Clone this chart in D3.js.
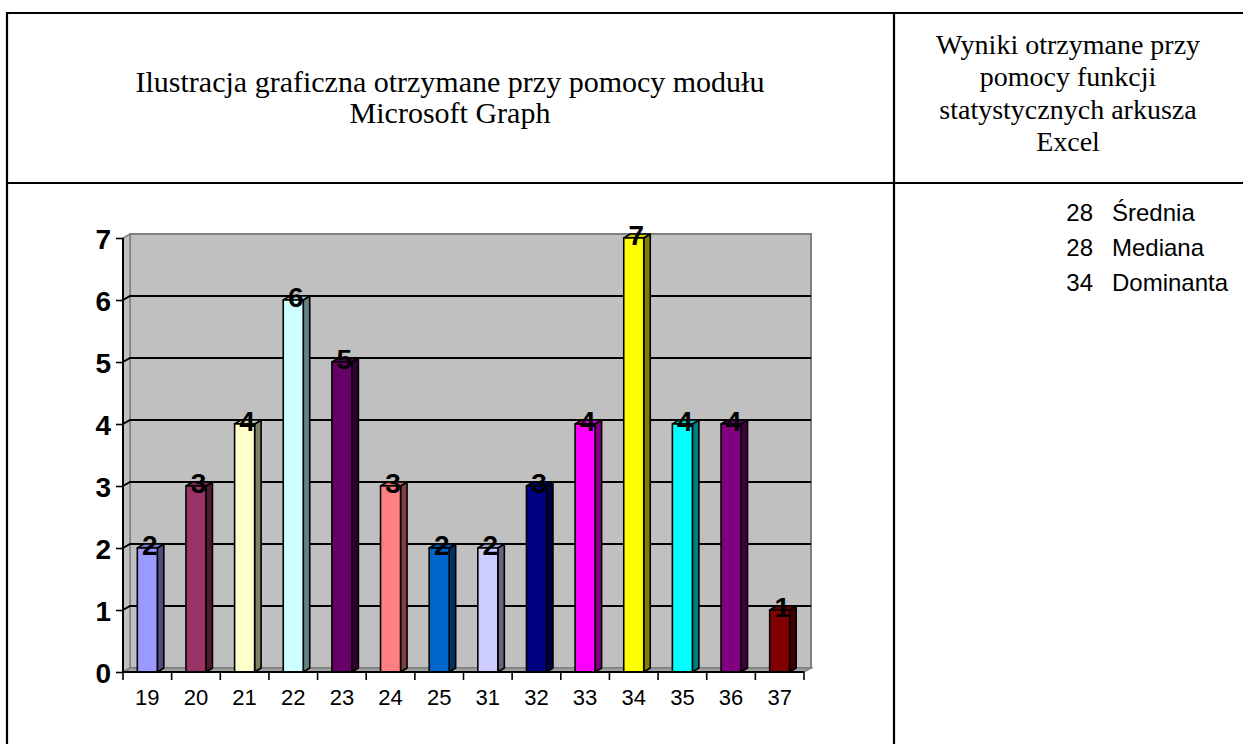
<!DOCTYPE html>
<html>
<head>
<meta charset="utf-8">
<script src="https://cdn.jsdelivr.net/npm/d3@7"></script>
<style>
  html, body { margin: 0; padding: 0; background: #fff; }
  svg { display: block; }
</style>
</head>
<body>
<svg id="page" width="1243" height="744"></svg>
<script>
// Age groups and how many people fall in each
const categories = ["19", "20", "21", "22", "23", "24", "25", "31", "32", "33", "34", "35", "36", "37"];
const counts = [2, 3, 4, 6, 5, 3, 2, 2, 3, 4, 7, 4, 4, 1];
const barColors = ["#9999FF", "#993366", "#FFFFCC", "#CCFFFF", "#660066", "#FF8080", "#0066CC",
                   "#CCCCFF", "#000080", "#FF00FF", "#FFFF00", "#00FFFF", "#800080", "#800000"];
const yTicks = [0, 1, 2, 3, 4, 5, 6, 7];

// Header texts and the spreadsheet statistics
const leftHeader = ["Ilustracja graficzna otrzymane przy pomocy modułu", "Microsoft Graph"];
const rightHeader = ["Wyniki otrzymane przy", "pomocy funkcji", "statystycznych arkusza", "Excel"];
const statValues = [28, 28, 34];
const statNames = ["Średnia", "Mediana", "Dominanta"];

const svg = d3.select("#page");

// ---- table frame ----
const frame = svg.append("g").attr("stroke", "#000").attr("stroke-width", 2.2);
frame.append("line").attr("x1", 7).attr("y1", 13).attr("x2", 1243).attr("y2", 13);
frame.append("line").attr("x1", 7).attr("y1", 183).attr("x2", 1243).attr("y2", 183);
frame.append("line").attr("x1", 7).attr("y1", 12).attr("x2", 7).attr("y2", 744);
frame.append("line").attr("x1", 894).attr("y1", 12).attr("x2", 894).attr("y2", 744);

const serif = "'Liberation Serif', 'Times New Roman', serif";
svg.append("g").selectAll("text").data(leftHeader).join("text")
  .attr("x", 450).attr("y", (d, i) => 92 + i * 31)
  .attr("text-anchor", "middle")
  .attr("font-family", serif).attr("font-size", 30)
  .text(d => d);
svg.append("g").selectAll("text").data(rightHeader).join("text")
  .attr("x", 1068).attr("y", (d, i) => 54 + i * 32.4)
  .attr("text-anchor", "middle")
  .attr("font-family", serif).attr("font-size", 28)
  .text(d => d);

const sans = "'Liberation Sans', Arial, sans-serif";
const stats = svg.append("g").attr("font-family", sans).attr("font-size", 24);
stats.selectAll("text.v").data(statValues).join("text").attr("class", "v")
  .attr("x", 1093).attr("y", (d, i) => 221 + i * 35)
  .attr("text-anchor", "end").text(d => d);
stats.selectAll("text.n").data(statNames).join("text").attr("class", "n")
  .attr("x", 1112).attr("y", (d, i) => 221 + i * 35)
  .text(d => d);

// ---- 3D column chart ----
const x0 = 123, x1 = 804;          // front floor edge
const yBase = 672, yTop = 238;     // front value range
const depth = { dx: 7, dy: -4 };   // wall depth offset
const barDepth = { dx: 6.5, dy: -4 };

const x = d3.scaleBand().domain(categories).range([x0, x1]).paddingInner(0).paddingOuter(0);
const y = d3.scaleLinear().domain([0, 7]).range([yBase, yTop]);

const chart = svg.append("g");

// back wall
chart.append("rect")
  .attr("x", x0 + depth.dx).attr("y", yTop + depth.dy)
  .attr("width", x1 - x0).attr("height", yBase - yTop)
  .attr("fill", "#C0C0C0").attr("stroke", "#808080").attr("stroke-width", 2);
// side wall
chart.append("path")
  .attr("d", `M${x0},${yBase} L${x0},${yTop} L${x0 + depth.dx},${yTop + depth.dy} L${x0 + depth.dx},${yBase + depth.dy} Z`)
  .attr("fill", "#C0C0C0").attr("stroke", "#808080").attr("stroke-width", 1.5);
// floor
chart.append("path")
  .attr("d", `M${x0},${yBase} L${x1},${yBase} L${x1 + depth.dx},${yBase + depth.dy} L${x0 + depth.dx},${yBase + depth.dy} Z`)
  .attr("fill", "#A0A0A0").attr("stroke", "#808080").attr("stroke-width", 1.5);

// gridlines on back and side wall
const grid = chart.append("g").attr("stroke", "#000").attr("stroke-width", 2).attr("fill", "none");
grid.selectAll("path").data(yTicks.filter(v => v > 0 && v < 7)).join("path")
  .attr("d", v => `M${x0},${y(v)} L${x0 + depth.dx},${y(v) + depth.dy} L${x1 + depth.dx},${y(v) + depth.dy}`);

// bars
const data = categories.map((c, i) => ({ cat: c, value: counts[i], color: barColors[i] }));
const bw = 20;
const shade = (c, k) => { const r = d3.rgb(c); return d3.rgb(r.r * k, r.g * k, r.b * k).formatHex(); };

const bars = chart.append("g").selectAll("g").data(data).join("g")
  .attr("stroke", "#000").attr("stroke-width", 1.6).attr("stroke-linejoin", "round");
bars.each(function (d) {
  const g = d3.select(this);
  const cx = x(d.cat) + x.bandwidth() / 2;
  const l = cx - bw / 2, r = cx + bw / 2;
  const t = y(d.value), b = y(0);
  const ddx = barDepth.dx, ddy = barDepth.dy;
  // side face
  g.append("path")
    .attr("d", `M${r},${b} L${r},${t} L${r + ddx},${t + ddy} L${r + ddx},${b + ddy} Z`)
    .attr("fill", shade(d.color, 0.5));
  // top face
  g.append("path")
    .attr("d", `M${l},${t} L${r},${t} L${r + ddx},${t + ddy} L${l + ddx},${t + ddy} Z`)
    .attr("fill", shade(d.color, 0.8));
  // front face
  g.append("rect").attr("x", l).attr("y", t).attr("width", bw).attr("height", b - t)
    .attr("fill", d.color);
});

// value labels
chart.append("g").selectAll("text").data(data).join("text")
  .attr("x", d => x(d.cat) + x.bandwidth() / 2 + 2.5)
  .attr("y", d => y(d.value) + 7)
  .attr("text-anchor", "middle")
  .attr("font-family", sans).attr("font-weight", "bold").attr("font-size", 28)
  .text(d => d.value);

// y axis
const yAxis = chart.append("g").attr("transform", `translate(${x0},0)`)
  .call(d3.axisLeft(y).tickValues(yTicks).tickFormat(d3.format("d")).tickSize(7).tickPadding(5));
yAxis.select(".domain").attr("stroke", "#000").attr("stroke-width", 2).attr("d", `M0,${yTop}V${yBase}`);
yAxis.selectAll(".tick line").attr("stroke", "#000").attr("stroke-width", 1.6);
yAxis.selectAll(".tick text").attr("font-family", sans).attr("font-weight", "bold")
  .attr("font-size", 28).attr("fill", "#000").attr("dy", "0.36em");

// x axis
const xAxis = chart.append("g").attr("transform", `translate(0,${yBase})`)
  .call(d3.axisBottom(x).tickSize(0).tickPadding(17));
xAxis.select(".domain").attr("stroke", "#000").attr("stroke-width", 2).attr("d", `M${x0},0H${x1}`);
xAxis.selectAll(".tick text").attr("font-family", sans).attr("font-size", 22).attr("fill", "#000");
// category boundary ticks
const bounds = categories.map(c => x(c)).concat([x1]);
xAxis.append("g").selectAll("line").data(bounds).join("line")
  .attr("x1", d => d).attr("x2", d => d).attr("y1", 0).attr("y2", 8)
  .attr("stroke", "#000").attr("stroke-width", 1.6);
</script>
</body>
</html>
